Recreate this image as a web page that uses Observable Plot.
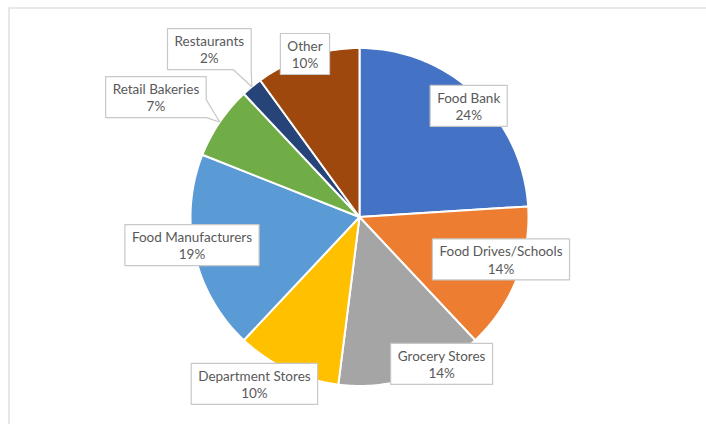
<!DOCTYPE html>
<html><head><meta charset="utf-8">
<script src="https://cdn.jsdelivr.net/npm/d3@7"></script>
<script src="https://cdn.jsdelivr.net/npm/@observablehq/plot@0.6"></script>
<style>body{margin:0;background:#fff;}</style>
</head><body><div id="chart"></div>
<script>
// ---- data ----
const categories = ["Food Bank","Food Drives/Schools","Grocery Stores","Department Stores","Food Manufacturers","Retail Bakeries","Restaurants","Other"];
const shares = [24,14,14,10,19,7,2,10];
const colors = ["#4472C4","#ED7D31","#A5A5A5","#FFC000","#5B9BD5","#70AD47","#264478","#9E480E"];
// ---- label layout (best-fit placement: angular nudge in degrees, distance from centre in radii) ----
const labelNudge = [1.3,-4.9,-11.2,7.0,3.1,-3.7,-2.2,-0.5];
const labelDist  = [0.922,0.874,0.996,1.167,1.005,1.398,1.333,1.017];
const hasCallout = [false,false,false,false,false,true,true,false];

const W = 706, H = 424, R = 169, CX = 359, CY = 216.5;
const FONT = "Lato", FS = 13.5, BOX_H = 41, PAD = 7, BASE = 18;

const total = d3.sum(shares);
const rad = d => d * Math.PI / 180;

const slicePts = [];
const labels = [];
const boxPts = [];
const ctx = document.createElement("canvas").getContext("2d");
ctx.font = `${FS}px ${FONT}`;
let acc = 0;
categories.forEach((name, i) => {
  const a0 = acc / total * 360, a1 = (acc + shares[i]) / total * 360;
  acc += shares[i];
  slicePts.push({name, x: 0, y: 0});
  const n = Math.max(2, Math.ceil(a1 - a0));
  for (let k = 0; k <= n; k++) {
    const a = rad(a0 + (a1 - a0) * k / n);
    slicePts.push({name, x: Math.sin(a), y: Math.cos(a)});
  }
  const mid = (a0 + a1) / 2;
  const la = rad(mid + labelNudge[i]);
  const lx = labelDist[i] * Math.sin(la), ly = labelDist[i] * Math.cos(la);
  const pct = shares[i] + "%";
  const tw = Math.max(ctx.measureText(name).width, ctx.measureText(pct).width);
  const hw = (tw / 2 + PAD) / R, hh = BOX_H / 2 / R;
  labels.push({name, x: lx, y: ly, text: name + "\n" + pct});
  const tip = hasCallout[i] ? [Math.sin(rad(mid)), Math.cos(rad(mid))] : null;
  boxPoly(lx - hw, lx + hw, ly + hh, ly - hh, tip).forEach(p => boxPts.push({name, x: p[0], y: p[1]}));
});

function boxPoly(l, r, t, b, tip) {
  const pts = [[l, t], [r, t], [r, b], [l, b]];
  if (!tip) return pts;
  let c = 0, best = Infinity;
  pts.forEach((p, i) => { const d = Math.hypot(p[0] - tip[0], p[1] - tip[1]); if (d < best) { best = d; c = i; } });
  const [px, py] = pts[c];
  const horizontalBase = Math.abs(tip[1] - py) > Math.abs(tip[0] - px);
  const useNext = horizontalBase === (c % 2 === 0);
  const along = q => { const dx = q[0] - px, dy = q[1] - py, L = Math.hypot(dx, dy); return [px + dx / L * BASE / R, py + dy / L * BASE / R]; };
  const out = [];
  for (let i = 0; i < 4; i++) {
    if (i === c) {
      if (useNext) out.push(pts[c], tip, along(pts[(c + 1) % 4]));
      else out.push(along(pts[(c + 3) % 4]), tip, pts[c]);
    } else out.push(pts[i]);
  }
  return out;
}

const chart = Plot.plot({
  width: W, height: H,
  marginTop: 0, marginRight: 0, marginBottom: 0, marginLeft: 0,
  style: {fontFamily: FONT, background: "#fff"},
  x: {domain: [-CX / R, (W - CX) / R], axis: null},
  y: {domain: [-(H - CY) / R, CY / R], axis: null},
  color: {domain: categories, range: colors},
  marks: [
    Plot.frame({stroke: "#d9d9d9", strokeWidth: 1.2, insetLeft: 8.5, insetTop: 7.5, insetRight: -10, insetBottom: -10}),
    Plot.line(slicePts, {x: "x", y: "y", z: "name", fill: "name", stroke: "white", strokeWidth: 2, strokeLinejoin: "round", curve: "linear-closed"}),
    Plot.line(boxPts, {x: "x", y: "y", z: "name", fill: "white", stroke: "#c8c8c8", strokeWidth: 1.2, strokeLinejoin: "miter", curve: "linear-closed"}),
    Plot.text(labels, {x: "x", y: "y", text: "text", fill: "#595959", fontSize: FS, fontFamily: FONT, lineHeight: 1.3})
  ]
});
document.getElementById("chart").appendChild(chart);
</script>
</body></html>
